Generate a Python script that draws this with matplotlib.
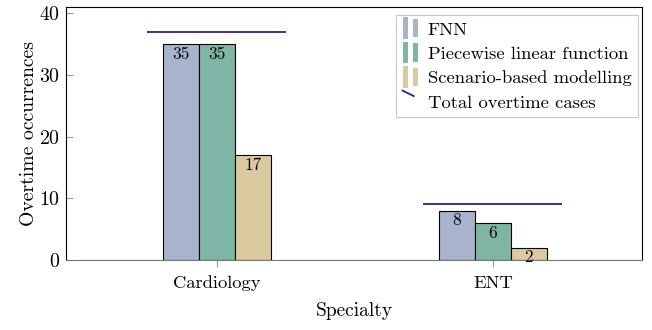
import matplotlib
matplotlib.use("Agg")
import matplotlib.pyplot as plt
import numpy as np
from matplotlib.patches import Rectangle
from matplotlib.lines import Line2D
from matplotlib.legend_handler import HandlerBase

plt.rcParams['font.family'] = ['cmr10', 'DejaVu Serif']
plt.rcParams['mathtext.fontset'] = 'cm'
plt.rcParams['axes.formatter.use_mathtext'] = True

categories = ["Cardiology", "ENT"]
series_names = ["FNN", "Piecewise linear function", "Scenario-based modelling"]
fnn = [35, 8]
piecewise = [35, 6]
scenario = [17, 2]
total_cases = [37, 9]
colors = ["#a8b3cc", "#7fb5a5", "#dbc9a0"]
line_color = "#3a1a8c"

fig = plt.figure(figsize=(6.52, 3.30), dpi=100)
ax = fig.add_axes([66/652, 1-260/330, (642-66)/652, (260-7)/330])

x = np.arange(len(categories))
w = 0.13
for i, (vals, c) in enumerate(zip([fnn, piecewise, scenario], colors)):
    bars = ax.bar(x + (i-1)*w, vals, width=w, color=c, edgecolor='black', linewidth=0.8, zorder=2)
    for b, v in zip(bars, vals):
        ax.text(b.get_x()+b.get_width()/2, v-0.4, str(v), ha='center', va='top', fontsize=12.5, zorder=3)

for xi, t in zip(x, total_cases):
    ax.hlines(t, xi-0.254, xi+0.25, color=line_color, linewidth=1.3, zorder=2)

ax.set_xlim(-0.547, 1.54)
ax.set_ylim(0, 41)
ax.set_xticks(x)
ax.set_xticklabels(categories, fontsize=13.3)
ax.set_yticks([0, 10, 20, 30, 40])
ax.tick_params(axis='y', labelsize=14.4, length=5, color='#999999', direction='in', pad=4)
ax.tick_params(axis='x', length=5, color='#999999', direction='out', pad=6)
ax.set_ylabel("Overtime occurrences", fontsize=14.2, labelpad=1)
ax.set_xlabel("Specialty", fontsize=14, labelpad=8)
ax.spines['bottom'].set_color('#777777')
for s in ['top', 'left', 'right']:
    ax.spines[s].set_color('black')
    ax.spines[s].set_linewidth(0.8)

class BarPairHandler(HandlerBase):
    def create_artists(self, legend, orig_handle, xdescent, ydescent, width, height, fontsize, trans):
        c = orig_handle.get_facecolor()
        bw = width*0.27
        r1 = Rectangle((-xdescent, -ydescent-3), bw, height+6, facecolor=c, edgecolor='none', transform=trans)
        r2 = Rectangle((-xdescent+width*0.55, -ydescent-2), bw, height+4, facecolor=c, edgecolor='none', transform=trans)
        return [r1, r2]

class SlantHandler(HandlerBase):
    def create_artists(self, legend, orig_handle, xdescent, ydescent, width, height, fontsize, trans):
        l = Line2D([-xdescent, -xdescent+width*0.6], [-ydescent+height+3, -ydescent+height-1],
                   color=orig_handle.get_color(), linewidth=1.3, transform=trans)
        return [l]

handles = [Rectangle((0, 0), 1, 1, facecolor=c) for c in colors]
lh = Line2D([0], [0], color=line_color)
hmap = {h: BarPairHandler() for h in handles}
hmap[lh] = SlantHandler()
leg = ax.legend(handles + [lh], series_names + ["Total overtime cases"], handler_map=hmap,
                loc='upper right', bbox_to_anchor=(1-4/576, 1-8/253), fontsize=13.4,
                frameon=True, fancybox=False, edgecolor='#bbbbbb', handlelength=1.0,
                handletextpad=0.35, borderpad=0.35, labelspacing=0.45, borderaxespad=0)
leg.get_frame().set_linewidth(0.8)

fig.savefig("out.png", dpi=100)
